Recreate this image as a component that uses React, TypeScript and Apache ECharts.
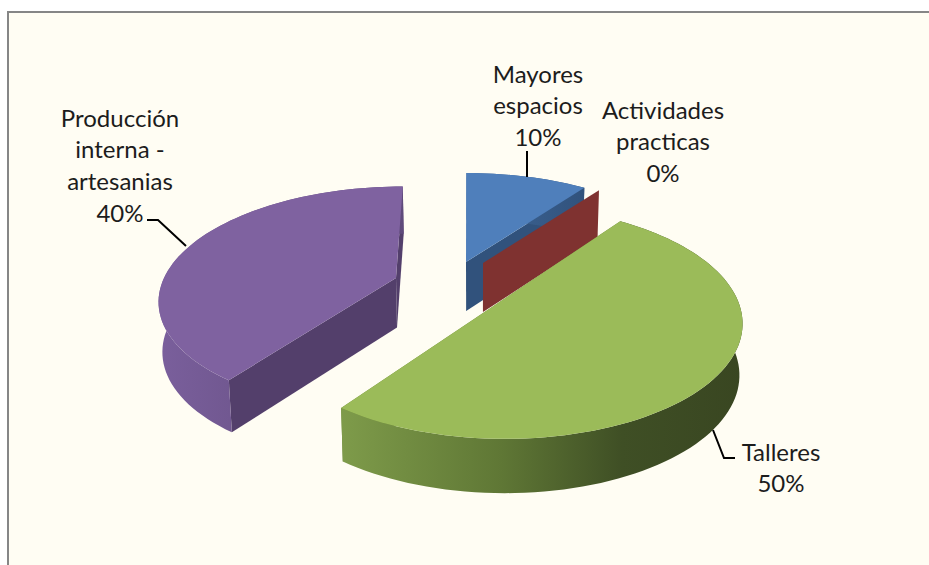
import React, { useEffect, useRef } from "react";
import * as echarts from "echarts";

const categories = ["Mayores espacios", "Actividades practicas", "Talleres", "Producción interna - artesanias"];
const values = [10, 0, 50, 40];
const labelLines = [["Mayores", "espacios"], ["Actividades", "practicas"], ["Talleres"], ["Producción", "interna -", "artesanias"]];

const FONT = "Lato, 'Open Sans', sans-serif";
const VPX = 470;
const P = 0.18;

type Lay = {
  ax: number; ay: number; a: number; b: number; h: number;
  top: string; flat: string; stops: [number, string][];
  label: [number, number]; leader: number[][];
};
const layouts: Lay[] = [
  { ax: 466, ay: 262, a: 230, b: 105, h: 49, top: "#4f7fbb", flat: "#31527c", stops: [[0, "#3f689a"], [1, "#31527c"]], label: [538, 73], leader: [[527, 151], [527, 177]] },
  { ax: 483, ay: 263, a: 228, b: 103, h: 49, top: "#7f3230", flat: "#7f3230", stops: [[0, "#7f3230"], [1, "#7f3230"]], label: [663, 109], leader: [] },
  { ax: 501, ay: 301, a: 237, b: 113, h: 51, top: "#9bbb59", flat: "#6a8338", stops: [[0, "#7e9b4a"], [0.4, "#5f7735"], [0.7, "#3f4f25"], [1, "#394621"]], label: [781, 451], leader: [[713, 430], [724, 458], [735, 458]] },
  { ax: 396, ay: 278, a: 232, b: 108, h: 49.5, top: "#7f62a0", flat: "#533f6b", stops: [[0, "#7a5f9c"], [0.5, "#6b5389"], [1, "#5f4a7b"]], label: [120, 117], leader: [[147, 220], [158, 220], [186, 246]] },
];

const total = values.reduce((s, v) => s + v, 0);

function project(l: Lay, u: number, v: number, down: boolean): number[] {
  const s = 1 / (1 + P * v);
  let x = l.ax + l.a * u * s + 0.6 * (VPX - l.ax) * (1 - s);
  let y = l.ay - l.b * v * s;
  if (down) {
    x += (480 - x) * 0.012;
    y += l.h * (1 + (s - 1) * 0.3);
  }
  return [x, y];
}
const rim = (l: Lay, t: number, down: boolean) => project(l, Math.sin(t), Math.cos(t), down);

function renderItem(params: any, api: any) {
  const i = params.dataIndex;
  const val = api.value(0);
  const before = values.slice(0, i).reduce((s, v) => s + v, 0);
  const t0 = (before / total) * Math.PI * 2;
  const t1 = t0 + (val / total) * Math.PI * 2;
  const l = layouts[i];
  const n = Math.max(2, Math.round(((t1 - t0) / Math.PI) * 90));
  const arcTop: number[][] = [];
  const arcBot: number[][] = [];
  for (let k = 0; k <= n; k++) {
    const t = t0 + ((t1 - t0) * k) / n;
    arcTop.push(rim(l, t, false));
    arcBot.push(rim(l, t, true));
  }
  const apexT = project(l, 0, 0, false);
  const apexB = project(l, 0, 0, true);
  const children: any[] = [];
  const poly = (points: number[][], fill: any) => ({
    type: "polygon",
    shape: { points },
    style: { fill, stroke: "none", lineWidth: 0 },
    silent: true,
  });
  const radial = (t: number, fill: string) =>
    poly([apexT, rim(l, t, false), rim(l, t, true), apexB], fill);
  children.push(radial(t0, l.flat));
  if (val > 0) {
    children.push(radial(t1, l.flat));
    const wallFill = new echarts.graphic.LinearGradient(0, 0, 1, 0, l.stops.map(([offset, color]) => ({ offset, color })));
    children.push(poly([...arcTop, ...arcBot.slice().reverse()], wallFill));
    children.push(poly([apexT, ...arcTop], l.top));
  }
  if (l.leader.length) {
    children.push({ type: "polyline", shape: { points: l.leader }, style: { fill: "none", stroke: "#000", lineWidth: 2 }, silent: true });
  }
  const pct = `${Math.round((val / total) * 100)}%`;
  [...labelLines[i], pct].forEach((line, k) => {
    children.push({
      type: "text",
      silent: true,
      style: {
        text: line,
        x: l.label[0],
        y: l.label[1] + k * 31.7,
        fill: "#1c1c1c",
        font: `24px ${FONT}`,
        align: "center",
        verticalAlign: "middle",
      },
    });
  });
  return { type: "group", children };
}

export default function App() {
  const ref = useRef<HTMLDivElement>(null);
  useEffect(() => {
    if (!ref.current) return;
    const chart = echarts.init(ref.current, null, { renderer: "svg" });
    chart.setOption({
      animation: false,
      backgroundColor: "#ffffff",
      graphic: [
        {
          type: "rect",
          z: -10,
          silent: true,
          shape: { x: 8, y: 12, width: 940, height: 580 },
          style: { fill: "#fffdf3", stroke: "#868686", lineWidth: 2 },
        },
      ],
      series: [
        {
          type: "custom",
          name: "Share",
          coordinateSystem: "none",
          renderItem,
          data: values.map((v, i) => ({ name: categories[i], value: [v] })),
          silent: true,
          clip: false,
        },
      ],
    });
    return () => chart.dispose();
  }, []);
  return <div ref={ref} style={{ position: "absolute", left: 0, top: 0, width: 929, height: 565 }} />;
}
